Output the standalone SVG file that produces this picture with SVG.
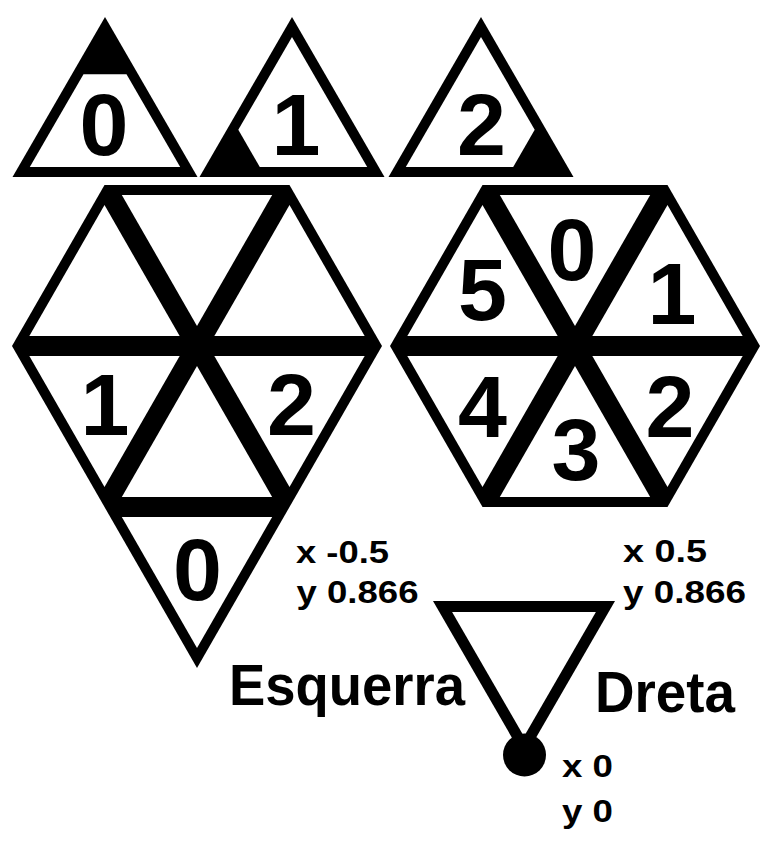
<svg xmlns="http://www.w3.org/2000/svg" width="776" height="849" viewBox="0 0 776 849">
<style>
.k{fill:#000}
.w{fill:#fff}
.num{font-family:"Liberation Sans",Arial,sans-serif;font-weight:bold;font-size:88px;text-anchor:middle;fill:#000}
.lbl{font-family:"Liberation Sans",Arial,sans-serif;font-weight:bold;font-size:32px;fill:#000}
.big{font-family:"Liberation Sans",Arial,sans-serif;font-weight:bold;font-size:58px;fill:#000}
</style>
<rect width="776" height="849" fill="#fff"/>

<g id="tri-0">
<polygon class="k" points="105,17 12.5,177 197.5,177"/>
<polygon class="w" points="83.5,74.2 126.5,74.2 180.2,167 29.8,167"/>
<text class="num" x="104" y="155">0</text>
</g>
<g id="tri-1">
<polygon class="k" points="292,17 199.5,177 384.5,177"/>
<polygon class="w" points="292,37 367.2,167 259.8,167 238.3,129.8"/>
<text class="num" x="296" y="155">1</text>
</g>
<g id="tri-2">
<polygon class="k" points="481,17 388.5,177 573.5,177"/>
<polygon class="w" points="481,37 534.7,129.8 513.2,167 405.8,167"/>
<text class="num" x="481.5" y="155">2</text>
</g>

<g id="hex-left">
<polygon class="k" points="104.5,185 289.5,185 382,346 289.5,507 104.5,507 12,346"/>
<polygon class="w" points="104.5,205.1 29.33,335.95 179.67,335.95"/>
<polygon class="w" points="121.83,195.05 272.17,195.05 197,325.9"/>
<polygon class="w" points="289.5,205.1 214.33,335.95 364.67,335.95"/>
<polygon class="w" points="29.33,356.05 179.67,356.05 104.5,486.9"/>
<polygon class="w" points="197,366.1 121.83,496.95 272.17,496.95"/>
<polygon class="w" points="214.33,356.05 364.67,356.05 289.5,486.9"/>
<text class="num" x="105" y="435">1</text>
<text class="num" x="291.5" y="435">2</text>
</g>

<g id="tri-bottom-0">
<polygon class="k" points="104.5,507 289.5,507 197,668"/>
<polygon class="w" points="121.83,517.05 272.17,517.05 197,647.9"/>
<text class="num" x="197.5" y="600">0</text>
</g>

<g id="hex-right">
<polygon class="k" points="482.5,185 667.5,185 760,346 667.5,507 482.5,507 390,346"/>
<polygon class="w" points="482.5,205.1 407.33,335.95 557.67,335.95"/>
<polygon class="w" points="499.83,195.05 650.17,195.05 575,325.9"/>
<polygon class="w" points="667.5,205.1 592.33,335.95 742.67,335.95"/>
<polygon class="w" points="407.33,356.05 557.67,356.05 482.5,486.9"/>
<polygon class="w" points="575,366.1 499.83,496.95 650.17,496.95"/>
<polygon class="w" points="592.33,356.05 742.67,356.05 667.5,486.9"/>
<text class="num" x="482.5" y="320">5</text>
<text class="num" x="572" y="280">0</text>
<text class="num" x="672" y="324">1</text>
<text class="num" x="482.5" y="437">4</text>
<text class="num" x="670" y="437">2</text>
<text class="num" x="576" y="480">3</text>
</g>

<g id="orientation">
<polygon class="k" points="433,601 615,601 524,758.6"/>
<polygon class="w" points="452.1,612 595.9,612 524,736.6"/>
<circle class="k" cx="524.5" cy="755" r="21.5"/>
</g>

<g id="labels">
<text class="lbl" x="296" y="563" textLength="93" lengthAdjust="spacingAndGlyphs">x -0.5</text>
<text class="lbl" x="296.5" y="603" textLength="122" lengthAdjust="spacingAndGlyphs">y 0.866</text>
<text class="lbl" x="623" y="562" textLength="84" lengthAdjust="spacingAndGlyphs">x 0.5</text>
<text class="lbl" x="623" y="603" textLength="123" lengthAdjust="spacingAndGlyphs">y 0.866</text>
<text class="lbl" x="562" y="777" textLength="51" lengthAdjust="spacingAndGlyphs">x 0</text>
<text class="lbl" x="562" y="822" textLength="51" lengthAdjust="spacingAndGlyphs">y 0</text>
<text class="big" x="229" y="705" textLength="236" lengthAdjust="spacingAndGlyphs">Esquerra</text>
<text class="big" x="595" y="712" textLength="140" lengthAdjust="spacingAndGlyphs">Dreta</text>
</g>
</svg>
